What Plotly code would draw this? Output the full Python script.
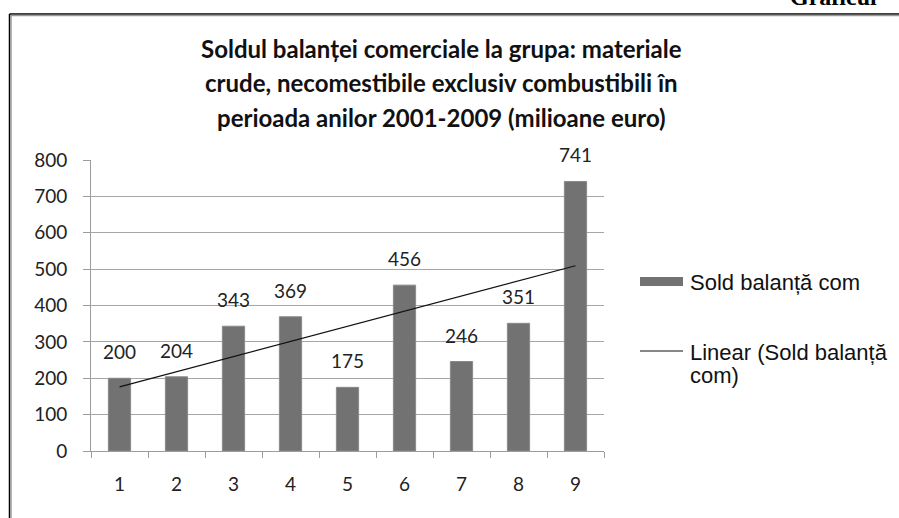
import numpy as np
import plotly.graph_objects as go

# data
years = ["1", "2", "3", "4", "5", "6", "7", "8", "9"]
sold = [200, 204, 343, 369, 175, 456, 246, 351, 741]
y_ticks = [0, 100, 200, 300, 400, 500, 600, 700, 800]

title_lines = [
    "Soldul balanței comerciale la grupa: materiale",
    "crude, necomestibile exclusiv combustibili în",
    "perioada anilor 2001-2009 (milioane euro)",
]
bar_name = "Sold balanță com"
trend_lines = ["Linear (Sold balanță", "com)"]

W, H = 899, 518
L, R, T, B = 91, 604, 160, 451  # plot area in pixels


def px(x):
    return (x - L) / (R - L)


def py(y):
    return (B - y) / (B - T)


# linear trend, like Excel's trendline
xs = np.arange(1, len(sold) + 1)
slope, icpt = np.polyfit(xs, sold, 1)
trend = slope * xs + icpt

fig = go.Figure()
fig.add_trace(go.Bar(
    x=years, y=sold, name=bar_name, width=0.39,
    marker=dict(color="#727272", line=dict(color="#8a8a8a", width=1)),
    showlegend=False, hoverinfo="x+y"
))
fig.add_trace(go.Scatter(
    x=years, y=trend, mode="lines", name=" ".join(trend_lines),
    line=dict(color="#111111", width=1.2), showlegend=False
))

num_font = dict(family="Lato", size=19, color="#222222")

# data labels above bars (category index as x)
for i, v in enumerate(sold):
    fig.add_annotation(x=i, y=v, text=str(v), showarrow=False,
                       xanchor="center", yanchor="bottom", yshift=13, font=num_font)

# title, one annotation per line
for i, line in enumerate(title_lines):
    fig.add_annotation(x=px(441), y=py(48 + 34.5 * i), xref="paper", yref="paper",
                       text="<b>%s</b>" % line, showarrow=False,
                       xanchor="center", yanchor="middle",
                       font=dict(family="Lato", size=24, color="#111111"))

# custom legend
leg_font = dict(family="Liberation Sans", size=22, color="#111111")
fig.add_shape(type="rect", xref="paper", yref="paper",
              x0=px(640), x1=px(683), y0=py(277), y1=py(286),
              fillcolor="#727272", line=dict(width=0))
fig.add_annotation(x=px(688), y=py(282), xref="paper", yref="paper",
                   text=bar_name, showarrow=False,
                   xanchor="left", yanchor="middle", font=leg_font)
fig.add_shape(type="line", xref="paper", yref="paper",
              x0=px(640), x1=px(683), y0=py(351), y1=py(351),
              line=dict(color="#111111", width=1.2))
for i, t in enumerate(trend_lines):
    fig.add_annotation(x=px(688), y=py(352 + 23 * i), xref="paper", yref="paper",
                       text=t, showarrow=False,
                       xanchor="left", yanchor="middle", font=leg_font)

# page frame (document border)
fig.add_shape(type="line", xref="paper", yref="paper",
              x0=px(9.5), x1=px(905), y0=py(14), y1=py(14),
              line=dict(color="#000000", width=1.5))
fig.add_shape(type="line", xref="paper", yref="paper",
              x0=px(10.5), x1=px(905), y0=py(15.5), y1=py(15.5),
              line=dict(color="#9a9a9a", width=1.5))
fig.add_shape(type="line", xref="paper", yref="paper",
              x0=px(9.5), x1=px(9.5), y0=py(14), y1=py(525),
              line=dict(color="#000000", width=1.5))
fig.add_shape(type="line", xref="paper", yref="paper",
              x0=px(11), x1=px(11), y0=py(15.5), y1=py(525),
              line=dict(color="#9a9a9a", width=1.5))

# cut-off heading at the top right of the page
fig.add_annotation(x=px(788), y=py(12), xref="paper", yref="paper",
                   text="<b>Graficul</b>", showarrow=False,
                   xanchor="left", yanchor="bottom",
                   font=dict(family="Liberation Serif", size=24, color="#000000"))

fig.update_layout(
    width=W, height=H,
    margin=dict(l=L, r=W - R, t=T, b=H - B),
    paper_bgcolor="white", plot_bgcolor="white",
    showlegend=False, bargap=0.61,
)
fig.update_xaxes(
    type="category", showgrid=False, automargin=False,
    range=[-0.5, len(years) - 0.5],
    showline=True, linecolor="#9c9c9c", linewidth=1,
    ticks="outside", tickson="boundaries", ticklen=6, tickcolor="#9c9c9c",
    ticklabelstandoff=16, tickfont=num_font,
)
fig.update_yaxes(
    range=[0, 800], tickvals=y_ticks, automargin=False,
    showgrid=True, gridcolor="#a6a6a6", gridwidth=1,
    showline=True, linecolor="#9c9c9c", linewidth=1,
    ticks="outside", ticklen=7, tickcolor="#9c9c9c",
    ticklabelstandoff=12, tickfont=num_font, zeroline=False,
)

# drop the page's default body margin so the figure sits at (0, 0)
fig.write_html("out.html", config={"displayModeBar": False},
               post_script="document.body.style.margin='0';")
